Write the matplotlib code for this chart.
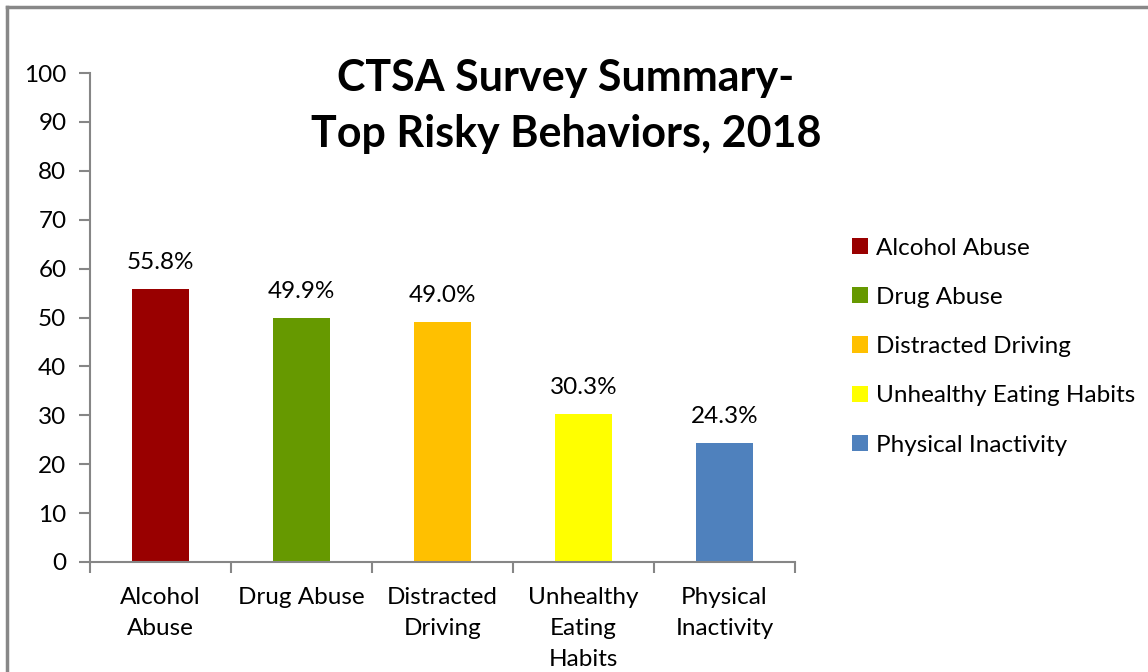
import matplotlib
matplotlib.use("Agg")
import matplotlib.pyplot as plt
from matplotlib.patches import Patch
from matplotlib.lines import Line2D

categories = ["Alcohol Abuse", "Drug Abuse", "Distracted Driving",
              "Unhealthy Eating Habits", "Physical Inactivity"]
tick_labels = ["Alcohol\nAbuse", "Drug Abuse", "Distracted\nDriving",
               "Unhealthy\nEating\nHabits", "Physical\nInactivity"]
values = [55.8, 49.9, 49.0, 30.3, 24.3]
colors = ["#990000", "#669900", "#FFC000", "#FFFF00", "#4F81BD"]

plt.rcParams['font.family'] = ['Lato', 'DejaVu Sans']
axis_grey = "#868686"
fs = 17.5

fig = plt.figure(figsize=(11.48, 6.72), dpi=100)
ax = fig.add_axes([90/1148, 1 - 562/672, 705/1148, 489/672])

x = list(range(len(values)))
bars = ax.bar(x, values, width=0.41, color=colors)
for xi, v in zip(x, values):
    ax.text(xi, v + 3.3, f"{v:.1f}%", ha="center", va="bottom", fontsize=fs)

ax.set_xlim(-0.5, len(values) - 0.5)
ax.set_ylim(0, 100)
ax.set_yticks(range(0, 101, 10))
ax.set_xticks([i - 0.5 for i in range(len(values) + 1)])
ax.set_xticklabels([])
ax.set_xticks(x, minor=True)
ax.set_xticklabels(tick_labels, minor=True, fontsize=fs, linespacing=1.58, va="top")
ax.tick_params(axis="x", which="minor", length=0, pad=18)
ax.tick_params(axis="x", which="major", length=8, color=axis_grey, width=1.5)
ax.tick_params(axis="y", length=8, color=axis_grey, width=1.5, labelsize=fs, pad=9)
for side in ["top", "right"]:
    ax.spines[side].set_visible(False)
for side in ["left", "bottom"]:
    ax.spines[side].set_color(axis_grey)
    ax.spines[side].set_linewidth(1.5)

fig.text(566/1148, 1 - 106/672, "CTSA Survey Summary-\nTop Risky Behaviors, 2018",
         ha="center", va="center", fontsize=31, fontweight="bold", linespacing=1.48)

handles = [Patch(facecolor=c, edgecolor="none") for c in colors]
fig.legend(handles, categories, loc="upper left", bbox_to_anchor=(842/1148, 1 - 228/672),
           frameon=False, fontsize=fs, handlelength=0.65, handleheight=0.65,
           handletextpad=0.35, labelspacing=1.16, borderaxespad=0)

# outer chart frame (top and left only visible)
fig.add_artist(Line2D([7/1148, 1], [1 - 7/672, 1 - 7/672], color="#888888", lw=2.5,
                      transform=fig.transFigure))
fig.add_artist(Line2D([7/1148, 7/1148], [0, 1 - 7/672], color="#888888", lw=2.5,
                      transform=fig.transFigure))

fig.savefig("out.png", dpi=100)
